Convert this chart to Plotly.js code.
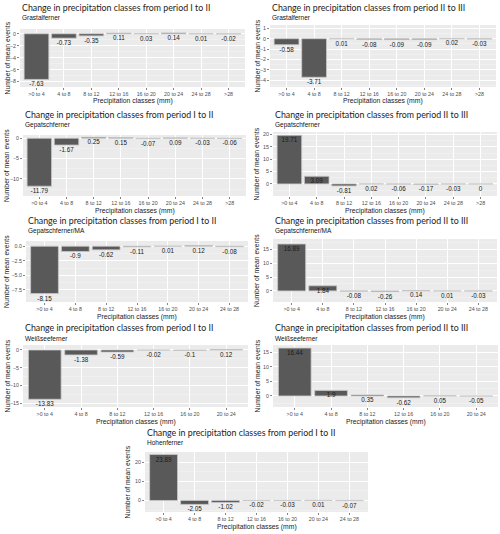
<!DOCTYPE html>
<html>
<head>
<meta charset="utf-8">
<script src="https://cdn.plot.ly/plotly-3.0.1.min.js"></script>
<style>html,body{margin:0;padding:0;background:#fff;}#chart{width:500px;height:534px;}</style>
</head>
<body>
<div id="chart"></div>
<script>
// ---- data ----
const classes8 = [">0 to 4", "4 to 8", "8 to 12", "12 to 16", "16 to 20", "20 to 24", "24 to 28", ">28"];
const classes7 = [">0 to 4", "4 to 8", "8 to 12", "12 to 16", "16 to 20", "20 to 24", "24 to 28"];
const classes6 = [">0 to 4", "4 to 8", "8 to 12", "12 to 16", "16 to 20", "20 to 24"];

const grastalfernerItoII = [-7.63, -0.73, -0.35, 0.11, 0.03, 0.14, 0.01, -0.02];
const grastalfernerIItoIII = [-0.58, -3.71, 0.01, -0.08, -0.09, -0.09, 0.02, -0.03];
const gepatschfernerItoII = [-11.79, -1.67, 0.25, 0.15, -0.07, 0.09, -0.03, -0.06];
const gepatschfernerIItoIII = [19.71, 3.09, -0.81, 0.02, -0.06, -0.17, -0.03, 0];
const gepatschMAItoII = [-8.15, -0.9, -0.62, -0.11, 0.01, 0.12, -0.08];
const gepatschMAIItoIII = [16.89, 1.84, -0.08, -0.26, 0.14, 0.01, -0.03];
const weissseeItoII = [-13.83, -1.38, -0.59, -0.02, -0.1, 0.12];
const weissseeIItoIII = [16.44, 1.9, 0.35, -0.62, 0.05, -0.05];
const hohenfernerItoII = [23.89, -2.05, -1.02, -0.02, -0.03, 0.01, -0.07];

const titleItoII = "Change in precipitation classes from period I to II";
const titleIItoIII = "Change in precipitation classes from period II to III";
const xTitle = "Precipitation classes (mm)";
const yTitle = "Number of mean events";

// ---- panel layout (pixel boxes: left, right, top, bottom) ----
const W = 500, H = 534;
const panels = [
  {cats: classes8, vals: grastalfernerItoII, title: titleItoII, sub: "Grastalferner", box: [20, 245, 29, 87], range: [-8.9, 0.8], dtick: 2, col: 0, tTop: 7.5},
  {cats: classes8, vals: grastalfernerIItoIII, title: titleIItoIII, sub: "Grastalferner", box: [270, 496, 25, 87], range: [-4.65, 1.32], dtick: 1, col: 250, tTop: 7.5},
  {cats: classes8, vals: gepatschfernerItoII, title: titleItoII, sub: "Gepatschferner", box: [23, 246, 135, 196], range: [-14.2, 0.8], dtick: 5, col: 0, tTop: 115},
  {cats: classes8, vals: gepatschfernerIItoIII, title: titleIItoIII, sub: "Gepatschferner", box: [273, 497, 132, 196], range: [-4.9, 21.05], dtick: 5, col: 250, tTop: 115},
  {cats: classes7, vals: gepatschMAItoII, title: titleItoII, sub: "Gepatschferner/MA", box: [26, 248, 241, 302], range: [-9.6, 0.9], dtick: 2.5, col: 0, tTop: 220, fmt: ".1f"},
  {cats: classes7, vals: gepatschMAIItoIII, title: titleIItoIII, sub: "Gepatschferner/MA", box: [273, 497, 239, 302], range: [-4.0, 18.7], dtick: 5, col: 250, tTop: 220},
  {cats: classes6, vals: weissseeItoII, title: titleItoII, sub: "Weißseeferner", box: [23, 248, 345, 407], range: [-16.0, 1.4], dtick: 5, col: 0, tTop: 327.5},
  {cats: classes6, vals: weissseeIItoIII, title: titleIItoIII, sub: "Weißseeferner", box: [273, 498, 345, 407], range: [-3.8, 17.5], dtick: 5, col: 250, tTop: 327.5},
  {cats: classes7, vals: hohenfernerItoII, title: titleItoII, sub: "Hohenferner", box: [145, 368, 452, 512], range: [-6.0, 25.2], dtick: 10, col: 120, tTop: 432.3}
];

const px = x => x / W;
const py = y => 1 - y / H;

const tickFont = {family: "Liberation Sans, Arial, sans-serif", size: 5.3, color: "#4d4d4d"};
const traces = [];
const annotations = [];
const layout = {
  width: W, height: H,
  margin: {l: 0, r: 0, t: 0, b: 0},
  paper_bgcolor: "#ffffff",
  plot_bgcolor: "#ebebeb",
  showlegend: false,
  bargap: 0.1,
  annotations: annotations
};

panels.forEach((p, i) => {
  const n = i + 1;
  const xa = "x" + (n === 1 ? "" : n);
  const ya = "y" + (n === 1 ? "" : n);
  const [l, r, t, b] = p.box;
  traces.push({
    type: "bar", x: p.cats, y: p.vals, xaxis: xa, yaxis: ya,
    marker: {color: "#595959", line: {color: "#c8c8c8", width: 0.8}},
    hoverinfo: "skip"
  });
  traces.push({
    type: "scatter", mode: "markers+text", x: p.cats, y: p.vals, xaxis: xa, yaxis: ya,
    marker: {size: 2, color: "rgba(0,0,0,0)"},
    text: p.vals.map(v => String(v)), textposition: "bottom center",
    textfont: {family: "Liberation Sans, Arial, sans-serif", size: 6.3, color: "#1a1a1a"},
    hoverinfo: "skip", cliponaxis: false
  });
  layout["xaxis" + (n === 1 ? "" : n)] = {
    domain: [px(l), px(r)], anchor: ya, type: "category",
    range: [-0.6, p.cats.length - 0.4],
    showgrid: true, gridcolor: "#ffffff", gridwidth: 1,
    ticks: "outside", ticklen: 2, tickcolor: "#333333", tickwidth: 0.6,
    tickfont: tickFont, showline: false, zeroline: false, fixedrange: true
  };
  layout["yaxis" + (n === 1 ? "" : n)] = {
    domain: [py(b), py(t)], anchor: xa,
    range: p.range, tick0: 0, dtick: p.dtick, tickformat: p.fmt || "",
    showgrid: true, gridcolor: "#ffffff", gridwidth: 1,
    minor: {dtick: p.dtick / 2, showgrid: true, gridcolor: "#f6f6f6", gridwidth: 0.5},
    ticks: "outside", ticklen: 2, tickcolor: "#333333", tickwidth: 0.6,
    tickfont: tickFont, showline: false, zeroline: false, fixedrange: true
  };
  // title
  annotations.push({
    text: p.title, xref: "paper", yref: "paper", x: px(l), y: py(p.tTop),
    xanchor: "left", yanchor: "middle", showarrow: false,
    font: {family: "Lato, Open Sans, sans-serif", size: 8.8, color: "#222222", weight: 400}
  });
  // subtitle
  annotations.push({
    text: p.sub, xref: "paper", yref: "paper", x: px(l), y: py(p.tTop + 10.5),
    xanchor: "left", yanchor: "middle", showarrow: false,
    font: {family: "Liberation Sans, Arial, sans-serif", size: 6.5, color: "#111111"}
  });
  // x axis title
  annotations.push({
    text: xTitle, xref: "paper", yref: "paper", x: px((l + r) / 2), y: py(b + 14.5),
    xanchor: "center", yanchor: "middle", showarrow: false,
    font: {family: "Liberation Sans, Arial, sans-serif", size: 6.8, color: "#1a1a1a"}
  });
  // y axis title
  annotations.push({
    text: yTitle, xref: "paper", yref: "paper", x: px(p.col + 6.5), y: py((t + b) / 2),
    xanchor: "center", yanchor: "middle", textangle: -90, showarrow: false,
    font: {family: "Liberation Sans, Arial, sans-serif", size: 6.8, color: "#1a1a1a"}
  });
});

Plotly.newPlot("chart", traces, layout, {displayModeBar: false, staticPlot: true});
</script>
</body>
</html>
